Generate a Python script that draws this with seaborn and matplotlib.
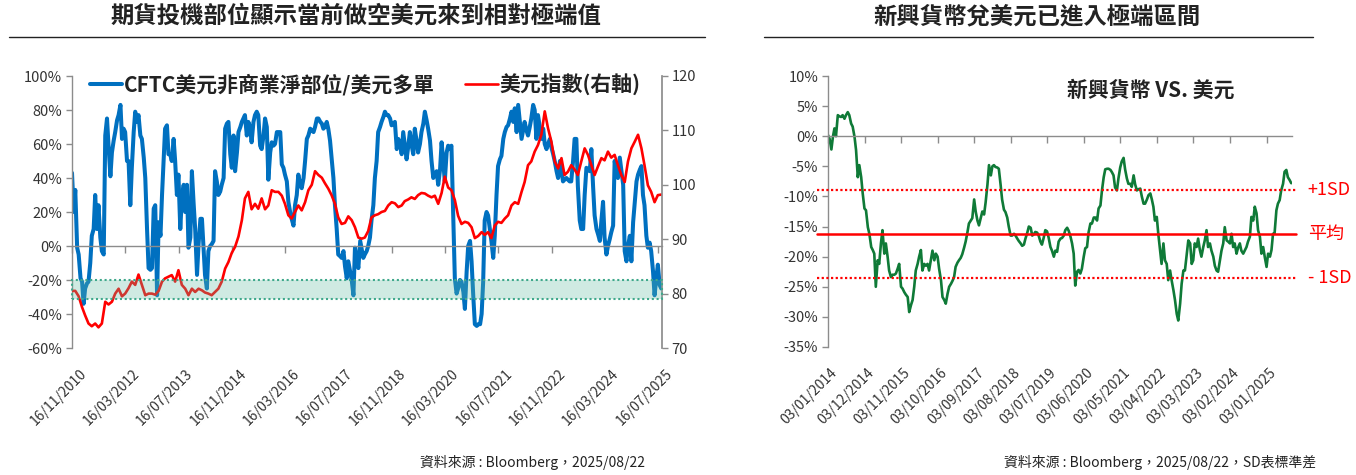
import matplotlib
matplotlib.use("Agg")
import matplotlib.pyplot as plt
import matplotlib.transforms as mtransforms
from matplotlib.lines import Line2D
from matplotlib.patches import Rectangle
from matplotlib.ticker import FuncFormatter
import pandas as pd
import seaborn as sns

sns.set_theme(style="white")
plt.rcParams["font.family"] = ["Noto Sans CJK TC", "DejaVu Sans"]

# CFTC net non-commercial position / USD longs (%), semi-monthly from 2010-11-15
cftc_net_long = [
    43, 20, 33, -1, -5, -19, -21, -34, -25, -22, -21, -10, 6, 10, 30, 10, 24, 5, -3, -5,
    65, 75, 59, 41, 55, 62, 67, 74, 77, 83, 63, 69, 67, 50, 50, 24, 46, 67, 79, 73,
    77, 65, 63, 52, 40, 10, -13, -14, -13, 22, 24, -29, 14, 6, 30, 50, 69, 71, 54, 54,
    50, 63, 50, 30, 42, 10, 28, 36, 20, 36, -1, 5, 44, 25, 10, -17, 1, 16, 16, 0,
    -17, -25, -3, 0, 1, 3, 44, 38, 30, 32, 36, 40, 69, 72, 73, 54, 46, 65, 44, 55,
    67, 70, 73, 75, 77, 65, 73, 70, 61, 73, 77, 79, 77, 59, 57, 65, 75, 70, 39, 55,
    61, 59, 60, 67, 67, 67, 48, 46, 42, 38, 26, 20, 16, 12, 24, 30, 42, 36, 34, 40,
    50, 63, 65, 69, 68, 67, 70, 75, 75, 73, 72, 69, 70, 73, 69, 62, 52, 40, 24, 10,
    -5, -6, -7, -3, -12, -19, -9, -15, -20, -29, -1, -8, -13, 3, -2, -7, -5, -3, 0, 5,
    15, 24, 40, 50, 67, 70, 73, 76, 79, 77, 77, 75, 71, 72, 73, 57, 63, 60, 54, 67,
    60, 51, 58, 67, 60, 54, 69, 62, 55, 60, 67, 72, 79, 74, 69, 62, 50, 40, 42, 44,
    36, 45, 61, 50, 38, 55, 59, 57, 59, 16, -19, -28, -25, -20, -21, -27, -37, -15, 0, 3,
    -9, -30, -46, -47, -46, -46, -40, -21, 15, 20, 18, 10, 3, -7, 6, 30, 47, 51, 53, 63,
    67, 70, 71, 75, 79, 73, 81, 67, 83, 72, 63, 68, 73, 68, 65, 70, 75, 83, 80, 63,
    77, 70, 63, 69, 60, 57, 60, 63, 58, 54, 50, 44, 40, 50, 44, 38, 39, 40, 39, 38,
    38, 50, 63, 63, 35, 15, 10, 10, 30, 46, 45, 44, 57, 35, 18, 10, 7, 3, 15, 26,
    5, -5, 0, 4, 8, 12, 50, 45, 40, 52, 45, 36, -3, -9, 0, 6, -9, 14, 25, 38,
    42, 45, 47, 30, 24, 6, -1, 2, -3, -15, -29, -19, -11, -23, -25,
]

# US dollar index (right axis), monthly from 2010-11-15
dxy_index = [
    80.5, 80.5, 79.5, 77.5, 76.0, 74.5, 74.0, 74.5, 73.8, 74.5,
    78.5, 78.0, 78.5, 80.0, 80.9, 79.5, 80.0, 81.0, 82.2, 81.6,
    83.5, 81.6, 79.7, 80.0, 80.0, 79.8, 80.5, 82.2, 82.8, 83.1,
    83.4, 82.2, 84.3, 81.6, 80.9, 79.7, 80.9, 80.3, 80.9, 80.6,
    80.2, 80.0, 79.7, 80.3, 80.9, 82.2, 84.6, 85.8, 87.5, 88.6,
    90.5, 93.5, 97.5, 98.7, 95.5, 96.5, 95.6, 97.5, 95.5, 96.2,
    99.0, 98.7, 98.7, 98.0, 96.5, 94.4, 93.8, 95.0, 96.2, 95.3,
    96.8, 99.0, 100.0, 102.5, 101.8, 101.3, 100.3, 99.3, 98.1, 96.5,
    94.0, 92.8, 93.0, 94.2, 93.5, 92.2, 90.3, 90.1, 90.3, 91.5,
    94.0, 94.4, 94.6, 95.0, 95.2, 96.2, 96.8, 96.6, 95.9, 96.2,
    97.0, 97.3, 97.7, 97.4, 98.1, 98.5, 98.4, 98.0, 97.7, 98.0,
    96.5, 98.5, 101.5, 99.5, 99.0, 97.2, 94.3, 92.8, 93.2, 93.0,
    92.2, 90.2, 90.6, 91.3, 90.8, 91.3, 90.2, 92.5, 93.2, 93.0,
    93.8, 94.4, 96.2, 96.8, 96.5, 98.7, 100.5, 103.6, 104.3, 106.1,
    107.3, 109.2, 113.5, 110.4, 107.9, 104.3, 103.0, 104.9, 101.8, 102.4,
    103.6, 102.8, 101.8, 104.3, 106.7, 105.5, 103.6, 101.8, 103.4, 104.9,
    104.5, 106.1, 105.0, 105.5, 103.6, 101.8, 100.5, 104.3, 106.7, 107.9,
    109.2, 106.7, 103.6, 99.9, 98.7, 96.8, 98.1, 98.2,
]

# emerging market currencies vs USD (%), semi-monthly from 2014-01-01
em_fx_vs_usd = [
    0.2, -0.4, -2.2, -0.1, 1.3, 0.0, 3.5, 3.3, 3.2, 3.5, 2.9, 3.5, 4.0, 3.5, 2.1, 1.6, -0.1, -2.3, -6.8, -4.8,
    -6.8, -9.5, -12.0, -12.3, -15.1, -16.2, -18.4, -18.9, -19.5, -25.0, -20.6, -21.2, -17.8, -15.6, -19.5, -17.8, -20.0, -22.3, -23.4, -23.0,
    -23.0, -22.8, -22.0, -21.2, -25.0, -25.3, -25.9, -26.3, -26.7, -29.2, -28.0, -27.2, -25.0, -22.3, -21.2, -20.0, -18.9, -22.3, -21.2, -21.5,
    -21.2, -22.3, -20.5, -19.0, -20.6, -19.5, -20.0, -22.0, -23.9, -26.7, -27.2, -27.8, -26.1, -25.0, -24.5, -24.0, -23.4, -21.7, -21.0, -20.6,
    -20.2, -19.6, -18.5, -17.5, -16.0, -14.5, -14.0, -13.6, -10.5, -12.5, -14.0, -14.8, -13.5, -12.5, -13.0, -11.0, -8.0, -4.8, -6.5, -5.0,
    -4.8, -5.1, -5.2, -5.4, -8.0, -10.5, -12.2, -12.6, -13.5, -15.0, -16.5, -16.5, -16.2, -16.5, -17.0, -17.4, -17.8, -18.2, -18.0, -17.0,
    -16.0, -15.0, -15.2, -16.5, -16.3, -15.9, -16.0, -16.5, -17.5, -18.0, -16.8, -15.6, -15.8, -16.8, -18.4, -19.0, -20.0, -19.0, -19.2, -17.5,
    -17.0, -16.9, -16.5, -15.6, -15.2, -15.7, -16.7, -17.8, -19.5, -24.8, -22.5, -22.2, -22.8, -22.0, -20.0, -18.6, -18.4, -16.0, -14.5, -14.5,
    -13.5, -13.5, -14.0, -12.0, -11.5, -9.0, -6.8, -5.5, -5.4, -5.4, -5.6, -6.0, -6.5, -8.5, -9.0, -7.0, -5.2, -4.2, -3.6, -5.5,
    -7.0, -7.9, -7.9, -8.4, -6.5, -8.0, -9.0, -8.8, -8.7, -10.0, -11.2, -11.2, -10.5, -9.8, -9.5, -10.5, -11.7, -14.0, -13.4, -16.2,
    -18.9, -21.2, -17.8, -20.6, -21.2, -23.9, -22.3, -23.9, -25.6, -27.2, -29.5, -30.6, -27.8, -24.5, -22.3, -22.3, -19.5, -17.3, -17.8, -21.2,
    -20.6, -17.8, -18.4, -17.0, -18.9, -20.0, -18.4, -17.3, -15.6, -18.4, -17.8, -19.0, -20.0, -21.5, -22.3, -22.5, -20.6, -19.0, -17.8, -15.1,
    -17.3, -17.5, -17.8, -16.2, -18.4, -17.8, -19.5, -18.5, -17.8, -19.0, -19.5, -19.0, -18.4, -17.5, -16.7, -13.4, -14.0, -11.7, -12.8, -15.6,
    -16.7, -19.5, -18.4, -20.0, -21.7, -19.5, -20.0, -18.9, -16.2, -16.2, -12.3, -11.2, -10.6, -9.0, -7.9, -5.9, -5.6, -6.8, -7.3, -7.8,
]

em_mean = -16.3
em_sd = 7.3
band_low, band_high = -31, -20

left_tick_labels = ["16/11/2010", "16/03/2012", "16/07/2013", "16/11/2014", "16/03/2016", "16/07/2017",
                    "16/11/2018", "16/03/2020", "16/07/2021", "16/11/2022", "16/03/2024", "16/07/2025"]
right_tick_labels = ["03/01/2014", "03/12/2014", "03/11/2015", "03/10/2016", "03/09/2017", "03/08/2018",
                     "03/07/2019", "03/06/2020", "03/05/2021", "03/04/2022", "03/03/2023", "03/02/2024",
                     "03/01/2025"]

BLUE = "#0070c0"
RED = "#ff0000"
GREEN = "#0f7a37"
GREY = "#8c8c8c"
TXT = "#333333"

cftc_dates = pd.date_range("2010-11-15", periods=len(cftc_net_long), freq="SMS")
dxy_dates = pd.date_range("2010-11-15", periods=len(dxy_index), freq=pd.DateOffset(months=1))
em_dates = pd.date_range("2014-01-01", periods=len(em_fx_vs_usd), freq="SMS")

W, H = 1356, 475
fig = plt.figure(figsize=(W / 100, H / 100), dpi=100)
ax_l = fig.add_axes([72 / W, 1 - 348 / H, 590 / W, 272 / H])
ax_dxy = ax_l.twinx()
ax_em = fig.add_axes([828 / W, 1 - 347 / H, 464 / W, 271 / H])

pct = FuncFormatter(lambda v, _: f"{v:.0f}%")

# ---- left chart ----
sns.lineplot(x=cftc_dates, y=cftc_net_long, ax=ax_l, color=BLUE, linewidth=2.9,
             label="CFTC美元非商業淨部位/美元多單")
sns.lineplot(x=dxy_dates, y=dxy_index, ax=ax_dxy, color=RED, linewidth=1.9,
             label="美元指數(右軸)")

band_tr = mtransforms.blended_transform_factory(ax_dxy.transAxes, ax_l.transData)
ax_dxy.add_patch(Rectangle((0, band_low), 1, band_high - band_low, transform=band_tr,
                           facecolor=(0.384, 0.737, 0.635, 0.3), edgecolor="#3fa88b",
                           linestyle=(0, (1, 1.3)), linewidth=1.5, zorder=5, clip_on=False))

ax_l.set_xlim(pd.Timestamp("2010-11-15"), pd.Timestamp("2025-08-22"))
ax_l.set_ylim(-60, 100)
ax_l.set_yticks(range(-60, 101, 20))
ax_l.yaxis.set_major_formatter(pct)
ax_dxy.set_ylim(70, 120)
ax_dxy.set_yticks(range(70, 121, 10))

handles = ax_l.get_legend_handles_labels()[0] + ax_dxy.get_legend_handles_labels()[0]
labels = ax_l.get_legend_handles_labels()[1] + ax_dxy.get_legend_handles_labels()[1]
ax_l.get_legend().remove()
ax_dxy.get_legend().remove()
leg = ax_dxy.legend(handles, labels, loc="center left", bbox_to_anchor=(0.03, 0.967), ncol=2,
                    frameon=False, borderpad=0, borderaxespad=0, handlelength=1.55,
                    handletextpad=0.1, columnspacing=1.45,
                    prop={"size": 15, "weight": "bold"})
for t in leg.get_texts():
    t.set_color("#222222")

# ---- right chart ----
sns.lineplot(x=em_dates, y=em_fx_vs_usd, ax=ax_em, color=GREEN, linewidth=1.9)
ax_em.axhline(em_mean, color=RED, linewidth=1.8, xmin=-0.024, xmax=1.009, clip_on=False, zorder=4)
for lvl in (em_mean + em_sd, em_mean - em_sd):
    ax_em.axhline(lvl, color=RED, linewidth=1.6, linestyle=(0, (1, 1.1)),
                  xmin=-0.024, xmax=1.009, clip_on=False, zorder=4)
ax_em.set_xlim(pd.Timestamp("2014-01-01"), pd.Timestamp("2025-08-22"))
ax_em.set_ylim(-35, 10)
ax_em.set_yticks(range(-35, 11, 5))
ax_em.yaxis.set_major_formatter(pct)

lbl_tr = mtransforms.blended_transform_factory(ax_em.transAxes, ax_em.transData)
for lvl, txt in ((em_mean + em_sd, "+1SD"), (em_mean, "平均"), (em_mean - em_sd, "- 1SD")):
    ax_em.text(1.034, lvl, txt, transform=lbl_tr, color=RED, fontsize=13,
               ha="left", va="center")
ax_em.text(0.696, 0.948, "新興貨幣 VS. 美元", transform=ax_em.transAxes, fontsize=15,
           fontweight="bold", color="#222222", ha="center", va="center")

# ---- shared axis styling ----
for ax, tick_labels, pad, shift in ((ax_l, left_tick_labels, 82, 7), (ax_em, right_tick_labels, 160, 2)):
    ax.set_xticks(pd.to_datetime(tick_labels, format="%d/%m/%Y"))
    ax.set_xticklabels(tick_labels)
    ax.spines["bottom"].set_position(("data", 0))
    for s in ("top", "right"):
        ax.spines[s].set_visible(False)
    for s in ("left", "bottom"):
        ax.spines[s].set_color(GREY)
        ax.spines[s].set_linewidth(1)
    ax.tick_params(axis="x", bottom=True, direction="out", length=5, width=1, color=GREY,
                   pad=pad, labelsize=10, labelcolor=TXT)
    ax.tick_params(axis="y", left=True, direction="out", length=4, width=1, color=GREY,
                   labelsize=10.5, labelcolor=TXT, pad=3)
    offset = mtransforms.ScaledTranslation(shift / 100, 0, fig.dpi_scale_trans)
    for lab in ax.get_xticklabels():
        lab.set_rotation(45)
        lab.set_ha("right")
        lab.set_rotation_mode("anchor")
        lab.set_transform(lab.get_transform() + offset)
    ax.set_xlabel("")
    ax.set_ylabel("")

for s in ("top", "left", "bottom"):
    ax_dxy.spines[s].set_visible(False)
ax_dxy.spines["right"].set_color(GREY)
ax_dxy.tick_params(axis="y", right=True, direction="out", length=4, width=1, color=GREY,
                   labelsize=10.5, labelcolor=TXT, pad=3)
ax_dxy.set_ylabel("")

# ---- titles, rules, sources ----
fig.text(356 / W, 1 - 16 / H, "期貨投機部位顯示當前做空美元來到相對極端值", ha="center", va="center",
         fontsize=16.8, fontweight="bold", color="#222222")
fig.text(1037 / W, 1 - 16 / H, "新興貨幣兌美元已進入極端區間", ha="center", va="center",
         fontsize=16.8, fontweight="bold", color="#222222")
fig.add_artist(Line2D([9 / W, 705 / W], [1 - 37 / H] * 2, color="#222222", linewidth=1))
fig.add_artist(Line2D([764 / W, 1313 / W], [1 - 37 / H] * 2, color="#222222", linewidth=1))
fig.text(645 / W, 1 - 462 / H, "資料來源 : Bloomberg，2025/08/22", ha="right", va="center",
         fontsize=10, color="#222222")
fig.text(1316 / W, 1 - 462 / H, "資料來源 : Bloomberg，2025/08/22，SD表標準差", ha="right", va="center",
         fontsize=10, color="#222222")

fig.savefig("out.png", dpi=100)
